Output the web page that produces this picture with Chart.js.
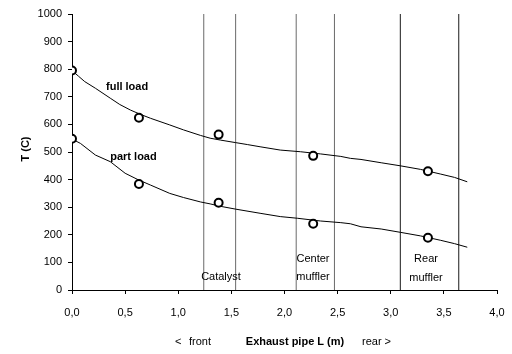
<!DOCTYPE html>
<html>
<head>
<meta charset="utf-8">
<script src="https://cdn.jsdelivr.net/npm/chart.js@4/dist/chart.umd.min.js"></script>
<style>
  html, body { margin: 0; padding: 0; background: #fff; }
  #wrap { width: 512px; height: 354px; }
</style>
</head>
<body>
<div id="wrap"><canvas id="chart" width="512" height="354"></canvas></div>
<script>
// curves (position along pipe in m, temperature in C)
const fullLoadX = [0, 0.06, 0.12, 0.22, 0.36, 0.45, 0.55, 0.64, 0.74, 0.92, 1.05, 1.21, 1.30, 1.40, 1.54, 1.65, 1.77, 1.96, 2.15, 2.34, 2.53, 2.62, 2.72, 2.91, 3.09, 3.28, 3.47, 3.60, 3.72];
const fullLoadY = [795, 775, 755, 731, 695, 672, 652, 637, 622, 598, 580, 560, 550, 543, 534, 527, 519, 507, 501, 493, 484, 477, 473, 461, 450, 437, 420, 408, 392];
const partLoadX = [0, 0.08, 0.22, 0.36, 0.50, 0.62, 0.74, 0.92, 1.05, 1.21, 1.30, 1.40, 1.54, 1.77, 1.96, 2.12, 2.34, 2.53, 2.62, 2.72, 2.91, 3.09, 3.28, 3.47, 3.60, 3.72];
const partLoadY = [547, 531, 489, 465, 423, 400, 380, 350, 335, 319, 312, 303, 293, 278, 266, 260, 250, 244, 240, 229, 221, 209, 196, 180, 168, 155];

// measured points (circles)
const measuredX = [0, 0.63, 1.38, 2.27, 3.35];
const fullMeasured = [795, 624, 563, 486, 430];
const partMeasured = [548, 384, 316, 240, 189];

// component boundaries along the pipe
const catalystX = [1.24, 1.54];
const centerMufflerX = [2.11, 2.47];
const rearMufflerX = [3.09, 3.64];

const xTicks = [0, 0.5, 1, 1.5, 2, 2.5, 3, 3.5, 4];
const yTicks = [0, 100, 200, 300, 400, 500, 600, 700, 800, 900, 1000];

const FONT = '"Liberation Sans", Arial, sans-serif';

function toPoints(xs, ys) {
  return xs.map((x, i) => ({x: x, y: ys[i]}));
}

function boundaryLines(xs, color) {
  return xs.map(x => ({
    data: [{x: x, y: 0}, {x: x, y: 1000}],
    showLine: true,
    borderColor: color,
    borderWidth: 1,
    pointRadius: 0,
    order: 3
  }));
}

const textPlugin = {
  id: 'textPlugin',
  afterDraw(chart) {
    const ctx = chart.ctx;
    const xs = chart.scales.x, ys = chart.scales.y;
    const put = (txt, x, y, bold, align) => {
      ctx.font = (bold ? 'bold ' : '') + '11px ' + FONT;
      ctx.textAlign = align || 'center';
      ctx.textBaseline = 'middle';
      ctx.fillText(txt, x, y);
    };
    ctx.save();
    ctx.fillStyle = '#000';
    put('full load', xs.getPixelForValue(0.32), ys.getPixelForValue(735), true, 'left');
    put('part load', xs.getPixelForValue(0.36), ys.getPixelForValue(481), true, 'left');
    put('Catalyst', 221, 277, false);
    put('Center', 313, 259, false);
    put('muffler', 313, 277, false);
    put('Rear', 426, 259, false);
    put('muffler', 426, 278, false);
    put('<', 175, 342, false, 'left');
    put('front', 189, 342, false, 'left');
    put('Exhaust pipe L (m)', 295, 342, true);
    put('rear >', 362, 342, false, 'left');
    // y axis title
    ctx.translate(26, 149);
    ctx.rotate(-Math.PI / 2);
    put('T (C)', 0, 0, true);
    ctx.restore();
  }
};

const ctx = document.getElementById('chart').getContext('2d');
new Chart(ctx, {
  type: 'scatter',
  data: {
    datasets: [
      ...boundaryLines(catalystX, '#6a6a6a'),
      ...boundaryLines(centerMufflerX, '#6a6a6a'),
      ...boundaryLines(rearMufflerX, '#1a1a1a'),
      {data: toPoints(fullLoadX, fullLoadY), showLine: true, borderColor: '#000', borderWidth: 1, pointRadius: 0, order: 2},
      {data: toPoints(partLoadX, partLoadY), showLine: true, borderColor: '#000', borderWidth: 1, pointRadius: 0, order: 2},
      {data: toPoints(measuredX, fullMeasured), pointRadius: 4, pointBorderWidth: 2, pointBorderColor: '#000', pointBackgroundColor: '#fff', order: 1},
      {data: toPoints(measuredX, partMeasured), pointRadius: 4, pointBorderWidth: 2, pointBorderColor: '#000', pointBackgroundColor: '#fff', order: 1}
    ]
  },
  options: {
    responsive: false,
    animation: false,
    layout: {padding: {top: 14, right: 15, left: 0, bottom: 0}},
    plugins: {legend: {display: false}, tooltip: {enabled: false}},
    scales: {
      x: {
        type: 'linear', min: 0, max: 4,
        afterFit: s => { s.height = 64; s.paddingLeft = 0; s.paddingRight = 0; },
        afterBuildTicks: s => { s.ticks = xTicks.map(v => ({value: v})); },
        grid: {drawOnChartArea: false, drawTicks: true, tickLength: 4, tickColor: '#000'},
        border: {color: '#000', width: 1},
        ticks: {
          color: '#000', padding: 12, maxRotation: 0,
          font: {family: FONT, size: 11},
          callback: v => v.toFixed(1).replace('.', ',')
        }
      },
      y: {
        type: 'linear', min: 0, max: 1000,
        afterFit: s => { s.width = 72; s.paddingTop = 0; s.paddingBottom = 0; },
        afterBuildTicks: s => { s.ticks = yTicks.map(v => ({value: v})); },
        grid: {drawOnChartArea: false, drawTicks: true, tickLength: 4, tickColor: '#000'},
        border: {color: '#000', width: 1},
        ticks: {color: '#000', padding: 6, font: {family: FONT, size: 11}, callback: v => String(v)}
      }
    }
  },
  plugins: [textPlugin]
});
</script>
</body>
</html>
